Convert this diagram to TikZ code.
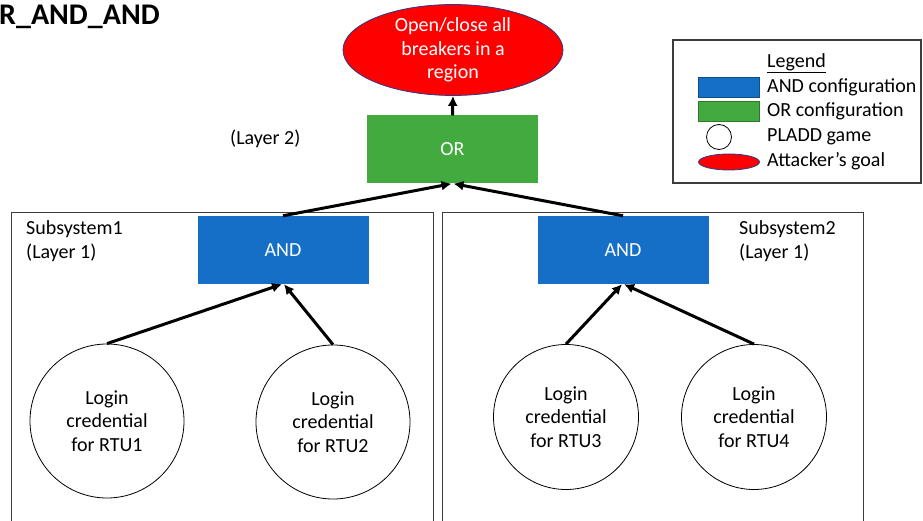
\documentclass[tikz,border=0pt]{standalone}
\usepackage{fontspec}
\setmainfont{Carlito}
\usetikzlibrary{arrows.meta,shapes.geometric}
\definecolor{andblue}{RGB}{21,111,198}
\definecolor{orgreen}{RGB}{66,170,62}
\definecolor{goalred}{RGB}{255,0,0}
\definecolor{rimblue}{RGB}{40,60,140}
\definecolor{framegray}{RGB}{60,60,60}
\tikzset{
  txt/.style={font=\fontsize{20}{23.5}\selectfont, align=center, inner sep=0pt},
  gatebox/.style={txt, text=white, minimum width=171pt, minimum height=68pt},
  andgate/.style={gatebox, fill=andblue},
  orgate/.style={gatebox, fill=orgreen},
  pladd/.style={txt, circle, draw=black, line width=0.8pt},
  goal/.style={txt, ellipse, draw=rimblue, line width=0.8pt, fill=goalred, text=white,
               minimum width=220pt, minimum height=76pt},
  subsys/.style={draw=framegray, line width=1pt},
  edge/.style={line width=3pt, -{Latex[length=10pt,width=10pt]}},
  lbl/.style={txt, align=left, anchor=west},
}
\begin{document}
\begin{tikzpicture}[x=1pt, y=-1pt]
  \useasboundingbox (0,0) rectangle (923,521);
  \clip (0,0) rectangle (923,521);

  % title
  \node[anchor=base west, inner sep=0pt, font=\fontsize{30}{34}\selectfont\bfseries] (title) at (-1,25) {R\_AND\_AND};

  % subsystem frames
  \draw[subsys] (11,530) -- (11,213) -- (433,213) -- (433,530);
  \draw[subsys] (442,530) -- (442,213) -- (863,213) -- (863,530);
  \node[lbl] (sub1) at (26,241) {Subsystem1\\(Layer 1)};
  \node[lbl] (sub2) at (739,241) {Subsystem2\\(Layer 1)};

  % top layer
  \node[goal] (goalnode) at (453,50) {Open/close all\\breakers in a\\region};
  \node[orgate] (orgate) at (452.5,149.5) {OR};
  \node[lbl] (layer2) at (230,139) {(Layer 2)};

  % first layer gates
  \node[andgate] (and1) at (283,250) {AND};
  \node[andgate] (and2) at (623,250) {AND};

  % PLADD games
  \node[pladd, minimum size=154pt] (rtu1) at (107,421) {Login\\credential\\for RTU1};
  \node[pladd, minimum size=154pt] (rtu2) at (333,422) {Login\\credential\\for RTU2};
  \node[pladd, minimum size=145pt] (rtu3) at (566,417) {Login\\credential\\for RTU3};
  \node[pladd, minimum size=145pt] (rtu4) at (754,417) {Login\\credential\\for RTU4};

  % connectors
  \draw[edge] (orgate.north) -- (goalnode.south);
  \draw[edge] (and1.north) -- ([xshift=-1pt]orgate.south);
  \draw[edge] (and2.north) -- ([xshift=1pt]orgate.south);
  \draw[edge] (rtu1.north) -- ([xshift=-1pt]and1.south);
  \draw[edge] (rtu2.north) -- ([xshift=1pt]and1.south);
  \draw[edge] (rtu3.north) -- ([xshift=-1pt]and2.south);
  \draw[edge] (rtu4.north) -- ([xshift=1pt]and2.south);

  % legend
  \draw[draw=framegray, line width=1.2pt] (673,40) rectangle (921,183);
  \node[lbl] (leghead) at (767,63) {\underline{Legend}};
  \node[fill=andblue, draw=andblue!70!black, line width=0.5pt, minimum width=61pt, minimum height=20pt, inner sep=0pt] (legand) at (728.5,87) {};
  \node[lbl] (legandtxt) at (767,87) {AND configuration};
  \node[fill=orgreen, draw=orgreen!70!black, line width=0.5pt, minimum width=61pt, minimum height=20pt, inner sep=0pt] (legor) at (728.5,111) {};
  \node[lbl] (legortxt) at (767,111) {OR configuration};
  \node[circle, draw=black, line width=0.8pt, minimum size=25pt, inner sep=0pt] (legpladd) at (719,137) {};
  \node[lbl] (legpladdtxt) at (767,137) {PLADD game};
  \node[ellipse, fill=goalred, draw=rimblue, line width=0.8pt, minimum width=61pt, minimum height=16pt, inner sep=0pt] (leggoal) at (729,162) {};
  \node[lbl] (leggoaltxt) at (767,161) {Attacker’s goal};
\end{tikzpicture}
\end{document}
